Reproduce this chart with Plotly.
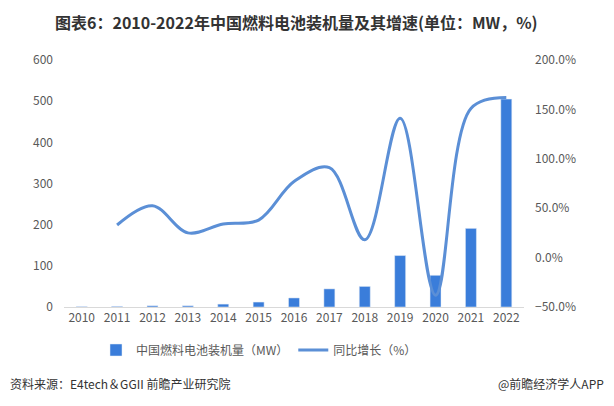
import plotly.graph_objects as go

years = ["2010", "2011", "2012", "2013", "2014", "2015", "2016", "2017", "2018", "2019", "2020", "2021", "2022"]
capacity_mw = [1, 1.5, 3, 3, 7, 12, 22, 44, 50, 125, 77, 191, 505]
growth_pct = [None, 33, 52.5, 25, 34, 38, 77, 91, 18, 141, -38, 151, 162]

bar_name = "中国燃料电池装机量（MW）"
line_name = "同比增长（%）"
title_text = "图表6：2010-2022年中国燃料电池装机量及其增速(单位：MW，%)"
source_text = "资料来源：E4tech＆GGII 前瞻产业研究院"
brand_text = "@前瞻经济学人APP"

font_cjk = "Noto Sans CJK SC, Microsoft YaHei, sans-serif"

# The page body has an 8px default margin, so the figure is offset by 8px.
OFF = 8
W, H = 598, 390
PL, PR, PT, PB = 64, 524, 60, 307  # plot area in page pixels
L = PL - OFF
T = PT - OFF
R = W - (PR - OFF)
B = H - (PB - OFF)
pw = W - L - R
ph = H - T - B


def px_x(px):
    return (px - OFF - L) / pw


def px_y(py):
    return (H - B - (py - OFF)) / ph


fig = go.Figure()
fig.add_trace(go.Bar(
    x=years, y=capacity_mw, name=bar_name, marker_color="#3A7DDA",
    width=0.31, yaxis="y",
))
fig.add_trace(go.Scatter(
    x=years, y=growth_pct, name=line_name, mode="lines",
    line=dict(color="#5B8FD6", width=3, shape="spline", smoothing=1.0),
    yaxis="y2", connectgaps=False,
))

fig.update_layout(
    width=W, height=H,
    margin=dict(l=L, r=R, t=T, b=B, autoexpand=False),
    paper_bgcolor="white", plot_bgcolor="white",
    font=dict(family=font_cjk, size=12, color="#595959"),
    showlegend=True,
    legend=dict(orientation="h", x=px_x(259), xanchor="center", y=px_y(350), yanchor="middle",
                font=dict(size=12, color="#595959"), traceorder="normal", itemwidth=30),
    xaxis=dict(type="category", showgrid=False, showline=True, linecolor="#D9D9D9",
               linewidth=1, ticks="", tickfont=dict(size=12, color="#595959")),
    yaxis=dict(range=[0, 600], dtick=100, showgrid=False, zeroline=False,
               showline=False, tickfont=dict(size=12, color="#595959"), ticklabelstandoff=10),
    yaxis2=dict(range=[-50, 200], dtick=50, overlaying="y", side="right", showgrid=False,
                zeroline=False, showline=False, tickformat=".1f", ticksuffix="%",
                tickfont=dict(size=12, color="#595959"), ticklabelstandoff=10),
    annotations=[
        dict(text="<b>" + title_text + "</b>", xref="paper", yref="paper",
             x=px_x(296), xanchor="center", y=px_y(22), yanchor="middle", showarrow=False,
             font=dict(size=16, color="#333333", family=font_cjk)),
        dict(text=source_text, xref="paper", yref="paper",
             x=px_x(8), xanchor="left", y=px_y(383), yanchor="middle", showarrow=False,
             font=dict(size=12, color="#333333")),
        dict(text=brand_text, xref="paper", yref="paper",
             x=px_x(606), xanchor="right", y=px_y(383), yanchor="middle", showarrow=False,
             font=dict(size=12, color="#333333")),
    ],
)

fig.write_html("out.html")
